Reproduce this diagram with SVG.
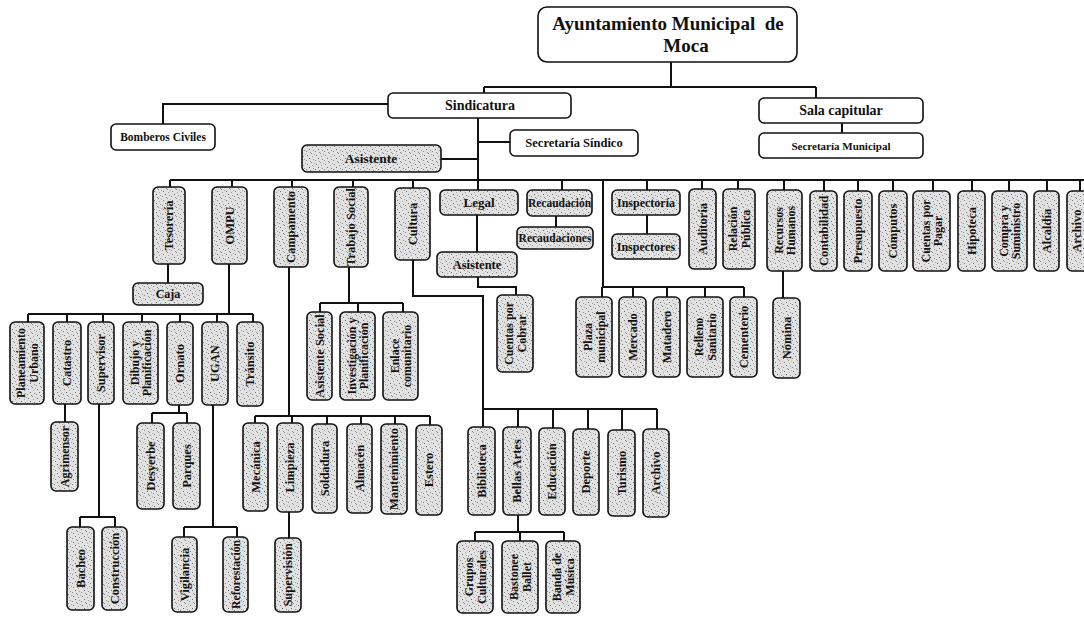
<svg xmlns="http://www.w3.org/2000/svg" width="1084" height="620" viewBox="0 0 1084 620">
<defs>
<pattern id="sp" width="9" height="9" patternUnits="userSpaceOnUse">
<rect width="9" height="9" fill="#e2e2e2"/>
<rect x="1" y="2" width="1" height="1" fill="#7a7a7a"/>
<rect x="5" y="0" width="1" height="1" fill="#8a8a8a"/>
<rect x="3" y="5" width="1" height="1" fill="#6a6a6a"/>
<rect x="7" y="6" width="1" height="1" fill="#959595"/>
<rect x="0" y="7" width="1" height="1" fill="#888"/>
<rect x="6" y="3" width="1" height="1" fill="#a0a0a0"/>
<rect x="4" y="8" width="1" height="1" fill="#909090"/>
<rect x="8" y="1" width="1" height="1" fill="#aaa"/>
</pattern>
<style>
.b{stroke:#111;stroke-width:1.6;fill:url(#sp)}
.w{stroke:#111;stroke-width:1.6;fill:#fff}
.c{fill:none;stroke:#111;stroke-width:2}
.t{font-family:"Liberation Serif","Times New Roman",serif;font-weight:bold;fill:#111;text-anchor:middle}
.v{font-size:12.5px}
.v2{font-size:12px}
.h{font-size:12px}
</style>
</defs>
<g id="connectors" class="c">
<path d="M671,62V87M484,87H816M484,87V93M816,87V98M842,123V133M388,104H163V124M478,118V190M478,142H510M441,159H478"/>
<path d="M170,180H1084M170,180V187M232,180V187M292,180V187M353,180V187M413,180V188M562,180V190M647,180V190M702,180V189M738,180V189M784,180V190M824,180V191M858,180V191M893,180V191M933,180V191M972,180V191M1009,180V191M1047,180V191M1080,180V191"/>
<path d="M556,216V227M477,215V252M478,277V287H516V295"/>
<path d="M603,180V287M602,287H744M602,287V297M633,287V297M667,287V297M705,287V297M744,287V297M647,215V234M783,271V298"/>
<path d="M168,264V283M229,264V314M28,314H253M28,314V322M67,314V322M103,314V322M142,314V322M180,314V322M217,314V322M253,314V322"/>
<path d="M179,405V413M152,413H187M152,413V423M187,413V423M65,404V422M99,404V517M80,517H115M80,517V527M115,517V527M213,405V527M184,527H237M184,527V537M237,527V537"/>
<path d="M289,267V416M255,416H430M255,416V423M292,416V423M327,416V424M361,416V424M395,416V424M430,416V425M289,512V538"/>
<path d="M349,267V303M320,303H403M320,303V312M358,303V312M403,303V312"/>
<path d="M413,260V296H483V427M483,409H657M518,409V427M553,409V428M588,409V429M622,409V430M657,409V429M518,515V532M475,532H564M475,532V541M520,532V541M564,532V541"/>
</g>
<g id="n-ayuntamiento"><rect class="w" x="538" y="7" width="259" height="55" rx="9" stroke-width="1.8"/><text class="t" x="668" y="30" font-size="19" style="white-space:pre">Ayuntamiento Municipal  de</text><text class="t" x="686" y="52" font-size="19">Moca</text></g>
<g id="n-sindicatura"><rect class="w" x="388" y="93" width="183" height="25" rx="5"/><text class="t" x="480" y="110" font-size="14">Sindicatura</text></g>
<g id="n-sala"><rect class="w" x="759" y="98" width="164" height="25" rx="5"/><text class="t" x="841" y="115" font-size="14">Sala capitular</text></g>
<g id="n-secmun"><rect class="w" x="759" y="133" width="164" height="25" rx="5"/><text class="t" x="841" y="150" font-size="11">Secretaría Municipal</text></g>
<g id="n-bomberos"><rect class="w" x="111" y="124" width="104" height="26" rx="5"/><text class="t" x="163" y="141" font-size="11.5">Bomberos Civiles</text></g>
<g id="n-secsindico"><rect class="w" x="510" y="130" width="128" height="26" rx="5"/><text class="t" x="574" y="147" font-size="12.5">Secretaría Síndico</text></g>
<g id="n-asistente1"><rect class="b" x="302" y="145" width="139" height="27" rx="5"/><text class="t" x="371" y="163" font-size="13.5">Asistente</text></g>

<g id="n-tesoreria"><rect class="b" x="153" y="187" width="32" height="77" rx="5"/><text class="t v" transform="translate(169,225.5) rotate(-90)" y="4.3">Tesorería</text></g>
<g id="n-caja"><rect class="b" x="133" y="283" width="70" height="22" rx="5"/><text class="t h" x="168" y="298">Caja</text></g>
<g id="n-ompu"><rect class="b" x="212" y="187" width="35" height="77" rx="5"/><text class="t v" transform="translate(229.5,225.5) rotate(-90)" y="4.3">OMPU</text></g>
<g id="n-campamento"><rect class="b" x="274" y="187" width="34" height="80" rx="5"/><text class="t v" transform="translate(291,227) rotate(-90)" y="4.3">Campamento</text></g>
<g id="n-trabajo"><rect class="b" x="334" y="187" width="34" height="80" rx="5"/><text class="t v" transform="translate(351,227) rotate(-90)" y="4.3">Trabajo Social</text></g>
<g id="n-cultura"><rect class="b" x="395" y="188" width="35" height="72" rx="5"/><text class="t v" transform="translate(412.5,224) rotate(-90)" y="4.3">Cultura</text></g>
<g id="n-legal"><rect class="b" x="440" y="190" width="78" height="25" rx="5"/><text class="t" x="479" y="207" font-size="13">Legal</text></g>
<g id="n-recaudacion"><rect class="b" x="527" y="190" width="65" height="26" rx="5"/><text class="t" x="559.5" y="207" font-size="11.5">Recaudación</text></g>
<g id="n-recaudaciones"><rect class="b" x="517" y="227" width="76" height="22" rx="5"/><text class="t" x="555" y="242" font-size="11.5">Recaudaciones</text></g>
<g id="n-asistente2"><rect class="b" x="437" y="252" width="80" height="25" rx="5"/><text class="t" x="477" y="269" font-size="12.5">Asistente</text></g>
<g id="n-cxc"><rect class="b" x="497" y="295" width="36" height="77" rx="5"/><text class="t v2" transform="translate(515,333.5) rotate(-90)"><tspan x="0" y="-2">Cuentas por</tspan><tspan x="0" y="10.5">Cobrar</tspan></text></g>

<g id="n-inspectoria"><rect class="b" x="612" y="190" width="68" height="25" rx="5"/><text class="t h" x="646" y="207">Inspectoría</text></g>
<g id="n-inspectores"><rect class="b" x="612" y="234" width="68" height="25" rx="5"/><text class="t h" x="646" y="251">Inspectores</text></g>
<g id="n-auditoria"><rect class="b" x="689" y="189" width="27" height="80" rx="5"/><text class="t v" transform="translate(702.5,229) rotate(-90)" y="4.3">Auditoría</text></g>
<g id="n-relacion"><rect class="b" x="723" y="189" width="32" height="80" rx="5"/><text class="t v2" transform="translate(739,229) rotate(-90)"><tspan x="0" y="-2">Relación</tspan><tspan x="0" y="10.5">Pública</tspan></text></g>
<g id="n-rrhh"><rect class="b" x="767" y="190" width="35" height="81" rx="5"/><text class="t v2" transform="translate(784.5,230.5) rotate(-90)"><tspan x="0" y="-2">Recursos</tspan><tspan x="0" y="10.5">Humanos</tspan></text></g>
<g id="n-nomina"><rect class="b" x="773" y="298" width="27" height="80" rx="5"/><text class="t v" transform="translate(786.5,338) rotate(-90)" y="4.3">Nómina</text></g>
<g id="n-contabilidad"><rect class="b" x="810" y="191" width="27" height="80" rx="5"/><text class="t v" transform="translate(823.5,231) rotate(-90)" y="4.3">Contabilidad</text></g>
<g id="n-presupuesto"><rect class="b" x="844" y="191" width="28" height="80" rx="5"/><text class="t v" transform="translate(858,231) rotate(-90)" y="4.3">Presupuesto</text></g>
<g id="n-computos"><rect class="b" x="879" y="191" width="28" height="80" rx="5"/><text class="t v" transform="translate(893,231) rotate(-90)" y="4.3">Cómputos</text></g>
<g id="n-cxp"><rect class="b" x="913" y="191" width="37" height="80" rx="5"/><text class="t v2" transform="translate(931.5,231) rotate(-90)"><tspan x="0" y="-2">Cuentas por</tspan><tspan x="0" y="10.5">Pagar</tspan></text></g>
<g id="n-hipoteca"><rect class="b" x="958" y="191" width="27" height="80" rx="5"/><text class="t v" transform="translate(971.5,231) rotate(-90)" y="4.3">Hipoteca</text></g>
<g id="n-compra"><rect class="b" x="992" y="191" width="35" height="80" rx="5"/><text class="t v2" transform="translate(1009.5,231) rotate(-90)"><tspan x="0" y="-2">Compra y</tspan><tspan x="0" y="10.5">Suministro</tspan></text></g>
<g id="n-alcaldia"><rect class="b" x="1034" y="191" width="25" height="80" rx="5"/><text class="t v" transform="translate(1046.5,231) rotate(-90)" y="4.3">Alcaldía</text></g>
<g id="n-archivo1"><rect class="b" x="1067" y="191" width="28" height="80" rx="5"/><text class="t v" transform="translate(1077,231) rotate(-90)" y="4.3">Archivo</text></g>

<g id="n-plaza"><rect class="b" x="576" y="297" width="36" height="80" rx="5"/><text class="t v2" transform="translate(594,337) rotate(-90)"><tspan x="0" y="-2">Plaza</tspan><tspan x="0" y="10.5">municipal</tspan></text></g>
<g id="n-mercado"><rect class="b" x="619" y="297" width="27" height="80" rx="5"/><text class="t v" transform="translate(632.5,337) rotate(-90)" y="4.3">Mercado</text></g>
<g id="n-matadero"><rect class="b" x="653" y="297" width="27" height="80" rx="5"/><text class="t v" transform="translate(666.5,337) rotate(-90)" y="4.3">Matadero</text></g>
<g id="n-relleno"><rect class="b" x="687" y="297" width="36" height="80" rx="5"/><text class="t v2" transform="translate(705,337) rotate(-90)"><tspan x="0" y="-2">Relleno</tspan><tspan x="0" y="10.5">Sanitario</tspan></text></g>
<g id="n-cementerio"><rect class="b" x="730" y="297" width="27" height="80" rx="5"/><text class="t v" transform="translate(743.5,337) rotate(-90)" y="4.3">Cementerio</text></g>

<g id="n-planeamiento"><rect class="b" x="10" y="322" width="34" height="82" rx="5"/><text class="t v2" transform="translate(27,363) rotate(-90)"><tspan x="0" y="-2">Planeamiento</tspan><tspan x="0" y="10.5">Urbano</tspan></text></g>
<g id="n-catastro"><rect class="b" x="53" y="322" width="28" height="82" rx="5"/><text class="t v" transform="translate(67,363) rotate(-90)" y="4.3">Catastro</text></g>
<g id="n-supervisor"><rect class="b" x="88" y="322" width="26" height="82" rx="5"/><text class="t v" transform="translate(101,363) rotate(-90)" y="4.3">Supervisor</text></g>
<g id="n-dibujo"><rect class="b" x="123" y="322" width="35" height="82" rx="5"/><text class="t v2" transform="translate(140.5,363) rotate(-90)"><tspan x="0" y="-2">Dibujo y</tspan><tspan x="0" y="10.5">Planificación</tspan></text></g>
<g id="n-ornato"><rect class="b" x="167" y="322" width="26" height="83" rx="5"/><text class="t v" transform="translate(180,363.5) rotate(-90)" y="4.3">Ornato</text></g>
<g id="n-ugan"><rect class="b" x="202" y="322" width="26" height="83" rx="5"/><text class="t v" transform="translate(215,363.5) rotate(-90)" y="4.3">UGAN</text></g>
<g id="n-transito"><rect class="b" x="237" y="322" width="26" height="84" rx="5"/><text class="t v" transform="translate(250,364) rotate(-90)" y="4.3">Tránsito</text></g>
<g id="n-agrimensor"><rect class="b" x="51" y="422" width="27" height="69" rx="5"/><text class="t v2" transform="translate(64.5,456.5) rotate(-90)" y="4.2">Agrimensor</text></g>
<g id="n-desyerbe"><rect class="b" x="137" y="423" width="27" height="86" rx="5"/><text class="t v" transform="translate(150.5,466) rotate(-90)" y="4.3">Desyerbe</text></g>
<g id="n-parques"><rect class="b" x="173" y="423" width="27" height="86" rx="5"/><text class="t v" transform="translate(186.5,466) rotate(-90)" y="4.3">Parques</text></g>
<g id="n-bacheo"><rect class="b" x="67" y="527" width="27" height="83" rx="5"/><text class="t v" transform="translate(80.5,568.5) rotate(-90)" y="4.3">Bacheo</text></g>
<g id="n-construccion"><rect class="b" x="102" y="527" width="25" height="83" rx="5"/><text class="t v" transform="translate(114.5,568.5) rotate(-90)" y="4.3">Construcción</text></g>
<g id="n-vigilancia"><rect class="b" x="172" y="537" width="25" height="75" rx="5"/><text class="t v" transform="translate(184.5,574.5) rotate(-90)" y="4.3">Vigilancia</text></g>
<g id="n-reforestacion"><rect class="b" x="223" y="537" width="25" height="75" rx="5"/><text class="t" font-size="11.8" transform="translate(235.5,574.5) rotate(-90)" y="4.2">Reforestación</text></g>

<g id="n-mecanica"><rect class="b" x="243" y="423" width="25" height="88" rx="5"/><text class="t v" transform="translate(255.5,467) rotate(-90)" y="4.3">Mecánica</text></g>
<g id="n-limpieza"><rect class="b" x="277" y="423" width="26" height="89" rx="5"/><text class="t v" transform="translate(290,467.5) rotate(-90)" y="4.3">Limpieza</text></g>
<g id="n-soldadura"><rect class="b" x="312" y="424" width="25" height="89" rx="5"/><text class="t v" transform="translate(324.5,468.5) rotate(-90)" y="4.3">Soldadura</text></g>
<g id="n-almacen"><rect class="b" x="347" y="424" width="25" height="89" rx="5"/><text class="t v" transform="translate(359.5,468.5) rotate(-90)" y="4.3">Almacén</text></g>
<g id="n-mantenimiento"><rect class="b" x="381" y="424" width="26" height="90" rx="5"/><text class="t v" transform="translate(394,469) rotate(-90)" y="4.3">Mantenimiento</text></g>
<g id="n-estero"><rect class="b" x="416" y="425" width="26" height="90" rx="5"/><text class="t v" transform="translate(429,470) rotate(-90)" y="4.3">Estero</text></g>
<g id="n-supervision"><rect class="b" x="275" y="538" width="26" height="74" rx="5"/><text class="t v" transform="translate(288,575) rotate(-90)" y="4.3">Supervisión</text></g>

<g id="n-asocial"><rect class="b" x="307" y="312" width="25" height="88" rx="5"/><text class="t v" transform="translate(319.5,356) rotate(-90)" y="4.3">Asistente Social</text></g>
<g id="n-investigacion"><rect class="b" x="340" y="312" width="35" height="88" rx="5"/><text class="t v2" transform="translate(357.5,356) rotate(-90)"><tspan x="0" y="-2">Investigación y</tspan><tspan x="0" y="10.5">Planificación</tspan></text></g>
<g id="n-enlace"><rect class="b" x="383" y="312" width="35" height="88" rx="5"/><text class="t v2" transform="translate(400.5,356) rotate(-90)"><tspan x="0" y="-2">Enlace</tspan><tspan x="0" y="10.5">comunitario</tspan></text></g>

<g id="n-biblioteca"><rect class="b" x="468" y="427" width="27" height="88" rx="5"/><text class="t v" transform="translate(481.5,471) rotate(-90)" y="4.3">Biblioteca</text></g>
<g id="n-bellas"><rect class="b" x="503" y="427" width="28" height="88" rx="5"/><text class="t v" transform="translate(517,471) rotate(-90)" y="4.3">Bellas Artes</text></g>
<g id="n-educacion"><rect class="b" x="539" y="428" width="26" height="87" rx="5"/><text class="t v" transform="translate(552,471.5) rotate(-90)" y="4.3">Educación</text></g>
<g id="n-deporte"><rect class="b" x="573" y="429" width="26" height="86" rx="5"/><text class="t v" transform="translate(586,472) rotate(-90)" y="4.3">Deporte</text></g>
<g id="n-turismo"><rect class="b" x="608" y="430" width="27" height="86" rx="5"/><text class="t v" transform="translate(621.5,473) rotate(-90)" y="4.3">Turismo</text></g>
<g id="n-archivo2"><rect class="b" x="643" y="429" width="26" height="88" rx="5"/><text class="t v" transform="translate(656,473) rotate(-90)" y="4.3">Archivo</text></g>
<g id="n-grupos"><rect class="b" x="457" y="541" width="36" height="72" rx="5"/><text class="t v2" transform="translate(475,577) rotate(-90)"><tspan x="0" y="-2">Grupos</tspan><tspan x="0" y="10.5">Culturales</tspan></text></g>
<g id="n-bastonee"><rect class="b" x="502" y="541" width="36" height="72" rx="5"/><text class="t v2" transform="translate(520,577) rotate(-90)"><tspan x="0" y="-2">Bastonee</tspan><tspan x="0" y="10.5">Ballet</tspan></text></g>
<g id="n-banda"><rect class="b" x="546" y="541" width="34" height="72" rx="5"/><text class="t v2" transform="translate(563,577) rotate(-90)"><tspan x="0" y="-2">Banda de</tspan><tspan x="0" y="10.5">Música</tspan></text></g>
</svg>
